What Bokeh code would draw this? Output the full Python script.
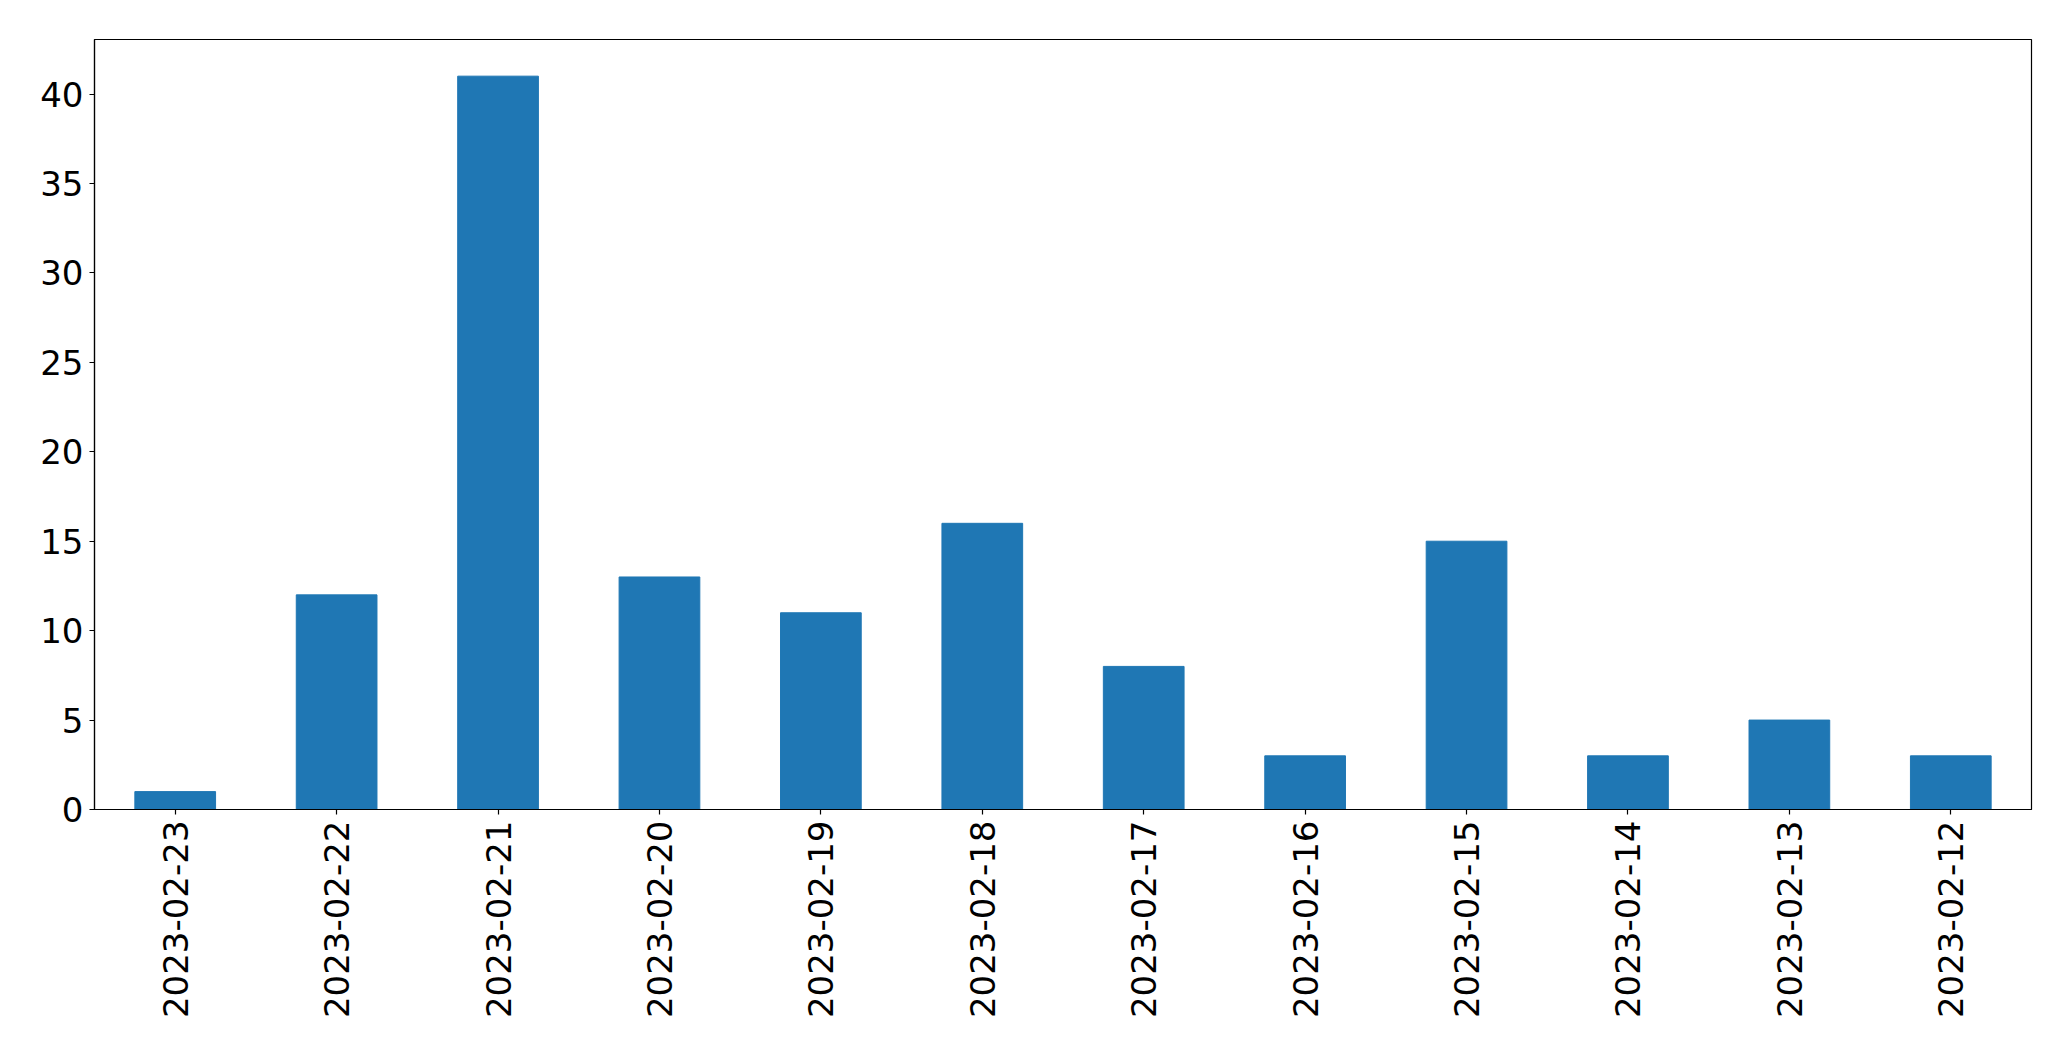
import math
from bokeh.plotting import figure
from bokeh.models import FactorRange, Range1d, FixedTicker
from bokeh.embed import file_html
from bokeh.resources import INLINE

dates = ["2023-02-23", "2023-02-22", "2023-02-21", "2023-02-20", "2023-02-19", "2023-02-18",
         "2023-02-17", "2023-02-16", "2023-02-15", "2023-02-14", "2023-02-13", "2023-02-12"]
counts = [1, 12, 41, 13, 11, 16, 8, 3, 15, 3, 5, 3]
y_ticks = [0, 5, 10, 15, 20, 25, 30, 35, 40]

p = figure(x_range=FactorRange(factors=dates, range_padding=0),
           y_range=Range1d(0, max(counts) * 1.05),
           width=2063, height=1053, output_backend="svg", toolbar_location=None,
           min_border_left=94, min_border_top=39, min_border_right=32, min_border_bottom=244)

p.vbar(x=dates, top=counts, width=0.5, color="#1f77b4")

p.xgrid.visible = False
p.ygrid.visible = False
p.outline_line_color = "black"
p.outline_line_width = 1.2

for ax in (p.xaxis[0], p.yaxis[0]):
    ax.axis_line_color = "black"
    ax.axis_line_width = 1.2
    ax.major_tick_line_color = "black"
    ax.major_tick_line_width = 1.2
    ax.major_tick_out = 5
    ax.major_tick_in = 0
    ax.minor_tick_line_color = None
    ax.major_label_text_font = "DejaVu Sans"
    ax.major_label_text_font_size = "34px"
    ax.major_label_text_color = "black"
    ax.major_label_standoff = 6

p.yaxis[0].ticker = FixedTicker(ticks=y_ticks)
p.xaxis[0].major_label_orientation = math.pi / 2

open("out.html", "w").write(file_html(p, INLINE))
